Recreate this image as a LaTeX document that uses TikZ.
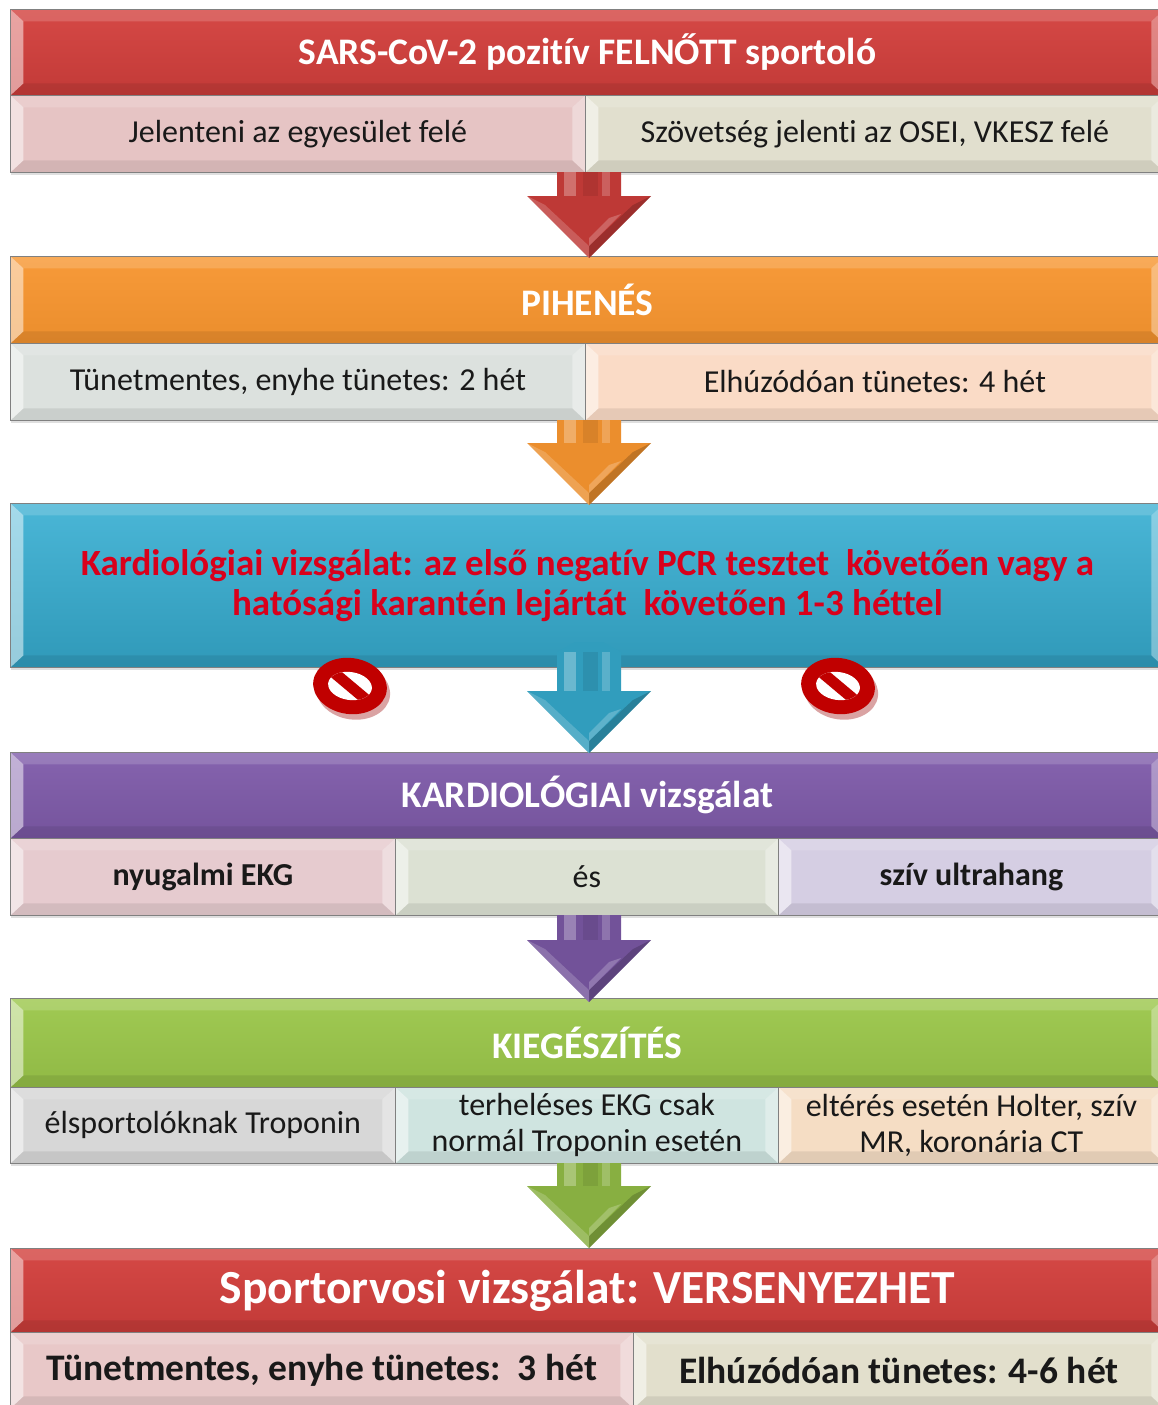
\documentclass[tikz,border=0pt]{standalone}
\usepackage{fontspec}
\setmainfont{Carlito}[Ligatures=NoCommon]
\usetikzlibrary{calc,shadows}
\definecolor{hred}{HTML}{D33F3C}
\definecolor{horange}{HTML}{F7952F}
\definecolor{hcyan}{HTML}{36AED2}
\definecolor{hpurple}{HTML}{7F5BAA}
\definecolor{hgreen}{HTML}{9BC74A}
\definecolor{kred}{HTML}{D9001B}
\definecolor{cpink}{HTML}{E6C4C4}
\definecolor{cbeige}{HTML}{E1DFCE}
\definecolor{cgrey}{HTML}{DCE1DE}
\definecolor{cpeach}{HTML}{FADBC6}
\definecolor{cpink2}{HTML}{E6CBCF}
\definecolor{csage}{HTML}{DCE1D3}
\definecolor{clav}{HTML}{D5CEE3}
\definecolor{clgrey}{HTML}{D7D7D7}
\definecolor{cmint}{HTML}{CFE4E0}
\definecolor{capricot}{HTML}{F5DDC4}
\definecolor{cpink3}{HTML}{E8C8C8}
\definecolor{cbeige2}{HTML}{E2DFCC}
\definecolor{nored}{HTML}{C00000}
\newcommand\myarrow[3]{%
  \fill[#3] ($(#1)+(-32,0)$) -- ($(#2)+(-32,-62)$) -- ($(#2)+(-62,-62)$) -- (#2) -- ($(#2)+(62,-62)$) -- ($(#2)+(32,-62)$) -- ($(#1)+(32,0)$) -- cycle;
  \fill[white,opacity=.28] ($(#1)+(-25,0)$) rectangle ($(#2)+(-13,-62)$);
  \fill[white,opacity=.20] ($(#1)+(13,0)$) rectangle ($(#2)+(21,-62)$);
  \fill[black,opacity=.08] ($(#1)+(-6,0)$) rectangle ($(#2)+(9,-62)$);
  \fill[black,opacity=.18] (#2) -- ($(#2)+(62,-62)$) -- ($(#2)+(44,-53)$) -- ($(#2)+(0,-12)$) -- cycle;
  \fill[white,opacity=.18] (#2) -- ($(#2)+(-62,-62)$) -- ($(#2)+(-44,-53)$) -- ($(#2)+(0,-12)$) -- cycle;
  \fill[white,opacity=.22] ($(#2)+(0,-12)$) -- ($(#2)+(32,-44)$) -- ($(#2)+(20,-40)$) -- ($(#2)+(0,-20)$) -- cycle;
}
\newcommand\noentry[2]{%
  \begin{scope}[shift={(#1,#2)},rotate=-8]
    \fill[black!40!red!45!white,opacity=.8] (4pt,-5pt) ellipse [x radius=37pt, y radius=28pt];
    \fill[nored] (0,0) ellipse [x radius=37pt, y radius=28pt];
    \begin{scope}
      \clip (0,0) ellipse [x radius=22pt, y radius=14pt];
      \fill[white] (-25pt,-16pt) rectangle (25pt,16pt);
      \fill[nored, rotate=-32] (-30pt,-5.5pt) rectangle (30pt,5.5pt);
    \end{scope}
  \end{scope}
}
\tikzset{
  bevel/.style={path picture={
    \coordinate (bnw) at (path picture bounding box.north west);
    \coordinate (bse) at (path picture bounding box.south east);
    \coordinate (bne) at (bnw-|bse);
    \coordinate (bsw) at (bnw|-bse);
    \fill[white,opacity=.16] (bnw) -- (bne) -- ([shift={(-13pt,-12pt)}]bne) -- ([shift={(13pt,-12pt)}]bnw) -- cycle;
    \fill[black,opacity=.08] (bsw) -- (bse) -- ([shift={(-13pt,12pt)}]bse) -- ([shift={(13pt,12pt)}]bsw) -- cycle;
    \fill[white,opacity=.50] (bnw) -- ([shift={(13pt,-12pt)}]bnw) -- ([shift={(13pt,12pt)}]bsw) -- (bsw) -- cycle;
    \fill[white,opacity=.35] (bne) -- ([shift={(-13pt,-12pt)}]bne) -- ([shift={(-13pt,12pt)}]bse) -- (bse) -- cycle;
  }},
  box/.style={anchor=north west, inner sep=0pt, draw=black!50, line width=0.8pt, bevel,
    drop shadow={shadow xshift=1pt, shadow yshift=-3pt, opacity=.25}},
  hdr/.style={box, text=white, font=\fontsize{37.5}{40}\bfseries\selectfont, minimum width=1154pt},
  cell/.style={box, text=black!90, font=\fontsize{32}{36}\selectfont, align=center},
}
\begin{document}
\begin{tikzpicture}[x=1pt,y=-1pt]
\useasboundingbox[fill=white] (0,0) rectangle (1157,1405);
% ---- block 1
\node[hdr, top color=hred!95!white, bottom color=hred!92!black, minimum height=86pt] (h1) at (10,9) {SARS-CoV-2 pozitív FELNŐTT sportoló};
\node[cell, fill=cpink, minimum width=575pt, minimum height=77pt] (c1a) at (10,95) {Jelenteni az egyesület felé};
\node[cell, fill=cbeige, minimum width=579pt, minimum height=77pt] (c1b) at (585,95) {Szövetség jelenti az OSEI, VKESZ felé};
% ---- block 2
\node[hdr, top color=horange!95!white, bottom color=horange!95!black, minimum height=87pt] (h2) at (10,256) {PIHENÉS};
\node[cell, fill=cgrey, minimum width=575pt, minimum height=77pt] (c2a) at (10,343) {Tünetmentes, enyhe tünetes: 2 hét};
\node[cell, fill=cpeach, minimum width=579pt, minimum height=77pt] (c2b) at (585,343) {Elhúzódóan tünetes: 4 hét};
% ---- block 3
\node[hdr, top color=hcyan!90!white, bottom color=hcyan!88!black, minimum height=164pt, text=kred, align=center, font=\fontsize{37}{40}\bfseries\selectfont] (h3) at (10,503) {Kardiológiai vizsgálat: az első negatív PCR tesztet\ \ követően vagy a\\hatósági karantén lejártát\ \ követően 1-3 héttel};
% ---- block 4
\node[hdr, top color=hpurple!95!white, bottom color=hpurple!92!black, minimum height=86pt] (h4) at (10,752) {KARDIOLÓGIAI vizsgálat};
\node[cell, fill=cpink2, minimum width=385pt, minimum height=77pt, font=\fontsize{32}{36}\bfseries\selectfont] (c4a) at (10,838) {nyugalmi EKG};
\node[cell, fill=csage, minimum width=383pt, minimum height=77pt] (c4b) at (395,838) {és};
\node[cell, fill=clav, minimum width=386pt, minimum height=77pt, font=\fontsize{32}{36}\bfseries\selectfont] (c4c) at (778,838) {szív ultrahang};
% ---- block 5
\node[hdr, top color=hgreen!95!white, bottom color=hgreen!93!black, minimum height=89pt] (h5) at (10,998) {KIEGÉSZÍTÉS};
\node[cell, fill=clgrey, minimum width=385pt, minimum height=76pt] (c5a) at (10,1087) {élsportolóknak Troponin};
\node[cell, fill=cmint, minimum width=383pt, minimum height=76pt] (c5b) at (395,1087) {terheléses EKG csak\\normál Troponin esetén};
\node[cell, fill=capricot, minimum width=386pt, minimum height=76pt] (c5c) at (778,1087) {eltérés esetén Holter, szív\\MR, koronária CT};
% ---- block 6
\node[hdr, top color=hred!95!white, bottom color=hred!92!black, minimum height=84pt, font=\fontsize{47.5}{52}\bfseries\selectfont] (h6) at (10,1248) {Sportorvosi vizsgálat: VERSENYEZHET};
\node[cell, fill=cpink3, minimum width=623pt, minimum height=76pt, font=\fontsize{37.5}{40}\bfseries\selectfont] (c6a) at (10,1332) {Tünetmentes, enyhe tünetes:\ \ 3 hét};
\node[cell, fill=cbeige2, minimum width=531pt, minimum height=76pt, font=\fontsize{37.5}{40}\bfseries\selectfont] (c6b) at (633,1332) {Elhúzódóan tünetes: 4-6 hét};
% ---- arrows
\coordinate (a1t) at (589,172);
\coordinate (a1e) at (589,258);
\myarrow{a1t}{a1e}{hred!90!black}
\coordinate (a2t) at (589,420);
\coordinate (a2e) at (589,505);
\myarrow{a2t}{a2e}{horange!95!black}
\coordinate (a3t) at (589,652);
\coordinate (a3e) at (589,753);
\fill[hcyan!90!black] ($(a3t)+(-32,0)$) -- ($(a3t)+(-14,-10)$) -- ($(a3t)+(14,-10)$) -- ($(a3t)+(32,0)$) -- cycle;
\myarrow{a3t}{a3e}{hcyan!90!black}
\coordinate (a4t) at (589,915);
\coordinate (a4e) at (589,1002);
\myarrow{a4t}{a4e}{hpurple!90!black}
\coordinate (a5t) at (589,1163);
\coordinate (a5e) at (589,1248);
\myarrow{a5t}{a5e}{hgreen!88!black}
% ---- no entry signs
\noentry{350}{686}
\noentry{838}{686}
\end{tikzpicture}
\end{document}
